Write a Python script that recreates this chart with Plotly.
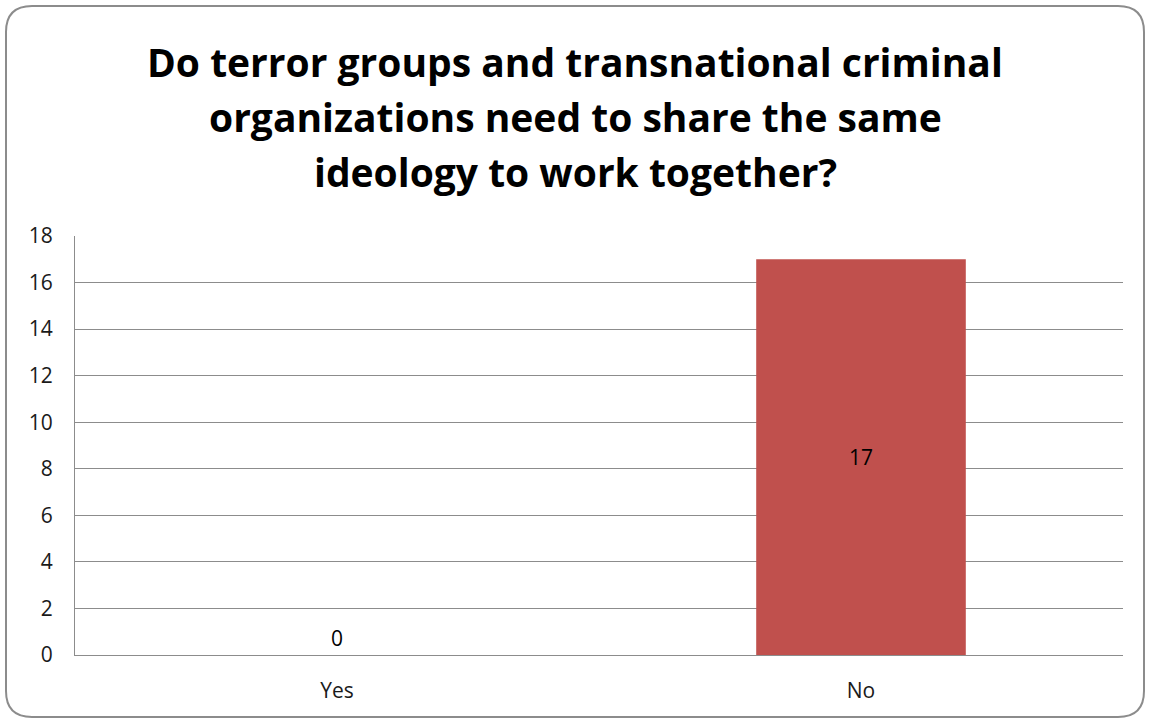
import plotly.graph_objects as go

categories = ["Yes", "No"]
values = [0, 17]
bar_colors = ["#C0504D", "#C0504D"]
y_ticks = [0, 2, 4, 6, 8, 10, 12, 14, 16, 18]
title_lines = ["Do terror groups and transnational criminal",
               "organizations need to share the same",
               "ideology to work together?"]

W, H = 1150, 721
ML, MR, MT, MB = 75, 27, 236, 66
PW, PH = W - ML - MR, H - MT - MB
FONT = "Open Sans, Lato, sans-serif"

def px(x):
    return (x - ML) / PW
def py(y):
    return (H - MB - y) / PH

fig = go.Figure()
fig.add_trace(go.Bar(
    x=categories, y=values,
    marker=dict(color=bar_colors, line=dict(width=0)),
    text=[str(v) for v in values],
    textposition=["outside", "inside"],
    insidetextanchor="middle",
    textfont=dict(family=FONT, size=21, color="#000000"),
    cliponaxis=False,
    hoverinfo="skip",
))

# rounded chart border
x0, x1, y0, y1, r = 6, 1144, 6, 717, 26
path = (
    f"M {px(x0 + r)},{py(y0)} L {px(x1 - r)},{py(y0)} "
    f"Q {px(x1)},{py(y0)} {px(x1)},{py(y0 + r)} "
    f"L {px(x1)},{py(y1 - r)} "
    f"Q {px(x1)},{py(y1)} {px(x1 - r)},{py(y1)} "
    f"L {px(x0 + r)},{py(y1)} "
    f"Q {px(x0)},{py(y1)} {px(x0)},{py(y1 - r)} "
    f"L {px(x0)},{py(y0 + r)} "
    f"Q {px(x0)},{py(y0)} {px(x0 + r)},{py(y0)} Z"
)
fig.add_shape(type="path", path=path, xref="paper", yref="paper",
              line=dict(color="#8C8C8C", width=2), layer="above")

# title lines
for i, line in enumerate(title_lines):
    fig.add_annotation(
        text=f"<b>{line}</b>", xref="paper", yref="paper",
        x=px(575), y=py(61 + 55 * i), xanchor="center", yanchor="middle",
        showarrow=False,
        font=dict(family=FONT, size=39, color="#000000"),
    )

fig.update_layout(
    width=W, height=H,
    margin=dict(l=ML, r=MR, t=MT, b=MB),
    paper_bgcolor="white", plot_bgcolor="white",
    showlegend=False,
    bargap=0.6,
    xaxis=dict(showgrid=False, showline=True, linecolor="#8C8C8C", linewidth=1,
               ticks="", tickfont=dict(family=FONT, size=21, color="#1A1A1A"),
               ticklabelstandoff=17),
    yaxis=dict(range=[0, 18], tickvals=y_ticks, showgrid=True, gridcolor="#8C8C8C",
               gridwidth=1, showline=True, linecolor="#8C8C8C", linewidth=1,
               zeroline=False, ticks="",
               tickfont=dict(family=FONT, size=21, color="#1A1A1A"),
               ticklabelstandoff=17),
)

fig.write_html("out.html",
               config={"displayModeBar": False},
               post_script="document.body.style.margin='0';document.body.style.overflow='hidden';")
